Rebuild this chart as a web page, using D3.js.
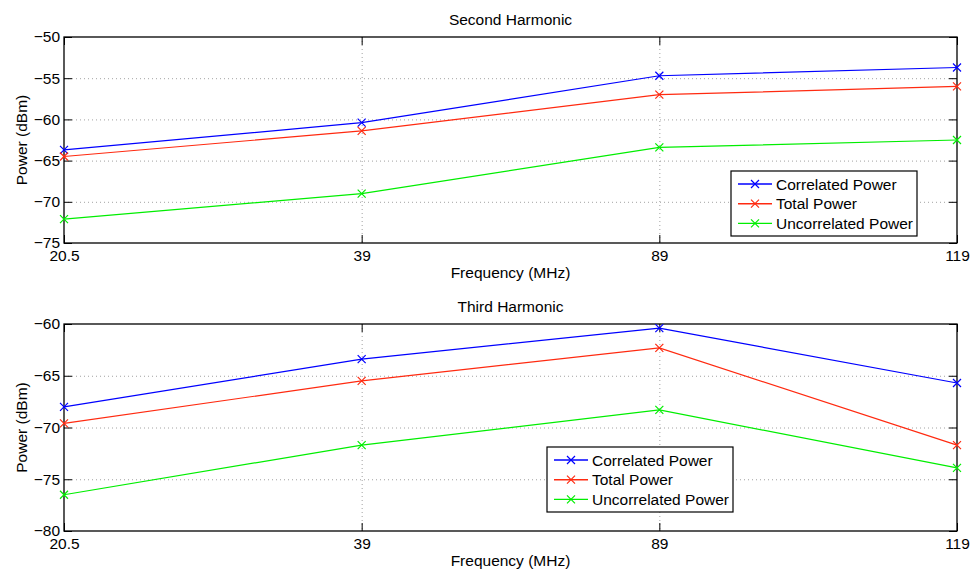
<!DOCTYPE html>
<html>
<head>
<meta charset="utf-8">
<script src="https://cdn.jsdelivr.net/npm/d3@7"></script>
<style>
  html, body { margin: 0; padding: 0; background: #fff; }
  svg { display: block; font-family: "Liberation Sans", Arial, Helvetica, sans-serif; }
</style>
</head>
<body>
<svg id="chart" width="976" height="571"></svg>
<script>
// Frequencies (categorical, evenly spaced)
const frequencies = ["20.5", "39", "89", "119"];
const seriesNames = ["Correlated Power", "Total Power", "Uncorrelated Power"];
const seriesColors = ["#0000ff", "#ff2a10", "#00ee00"];

// Second harmonic power (dBm)
const secondCorrelated   = [-63.7, -60.4, -54.7, -53.7];
const secondTotal        = [-64.5, -61.4, -57.0, -56.0];
const secondUncorrelated = [-72.1, -69.0, -63.4, -62.5];

// Third harmonic power (dBm)
const thirdCorrelated   = [-68.0, -63.4, -60.4, -65.7];
const thirdTotal        = [-69.6, -65.5, -62.3, -71.7];
const thirdUncorrelated = [-76.5, -71.7, -68.3, -73.9];

const secondTicks = [-75, -70, -65, -60, -55, -50];
const thirdTicks  = [-80, -75, -70, -65, -60];

const FONT = 15.5;
const svg = d3.select("#chart");

function panel(opts) {
  const { top, bottom, left, right, yDomain, yTicks, series, title, legendPos } = opts;
  const g = svg.append("g");
  const x = d3.scalePoint().domain(frequencies).range([left, right]).padding(0);
  const y = d3.scaleLinear().domain(yDomain).range([bottom, top]);

  // dotted grid
  const grid = g.append("g").attr("stroke", "#8a8a8a").attr("stroke-width", 0.8)
    .attr("stroke-dasharray", "1,3");
  grid.selectAll("line.h").data(yTicks.filter(t => t !== yDomain[0] && t !== yDomain[1]))
    .join("line").attr("class", "h")
    .attr("x1", left).attr("x2", right)
    .attr("y1", d => y(d) + 0.5).attr("y2", d => y(d) + 0.5);
  grid.selectAll("line.v").data(frequencies.slice(1, -1))
    .join("line").attr("class", "v")
    .attr("y1", top).attr("y2", bottom)
    .attr("x1", d => x(d) + 0.5).attr("x2", d => x(d) + 0.5);

  // axes with inward ticks on all four sides
  const fmt = d => String(d).replace("-", "\u2212");
  const axes = [
    g.append("g").attr("transform", `translate(${left},0)`)
      .call(d3.axisLeft(y).tickValues(yTicks).tickSize(-8).tickPadding(4).tickFormat(fmt)),
    g.append("g").attr("transform", `translate(${right},0)`)
      .call(d3.axisRight(y).tickValues(yTicks).tickSize(-8).tickFormat("")),
    g.append("g").attr("transform", `translate(0,${bottom})`)
      .call(d3.axisBottom(x).tickSize(-8).tickPadding(7)),
    g.append("g").attr("transform", `translate(0,${top})`)
      .call(d3.axisTop(x).tickSize(-8).tickFormat(""))
  ];
  axes.forEach(a => {
    a.select(".domain").remove();
    a.selectAll("line").attr("stroke", "#000").attr("stroke-width", 1);
    a.selectAll("text").attr("font-size", FONT).attr("fill", "#000")
      .attr("font-family", "'Liberation Sans', Arial, sans-serif");
  });

  // axes box
  g.append("rect").attr("x", left).attr("y", top)
    .attr("width", right - left).attr("height", bottom - top)
    .attr("fill", "none").attr("stroke", "#000").attr("stroke-width", 1.3);

  // series lines with x markers
  const line = d3.line().x((d, i) => x(frequencies[i])).y(d => y(d));
  series.forEach((vals, si) => {
    const c = seriesColors[si];
    g.append("path").datum(vals).attr("d", line)
      .attr("fill", "none").attr("stroke", c).attr("stroke-width", 1.2);
    g.selectAll(null).data(vals).join("path")
      .attr("transform", (d, i) => `translate(${x(frequencies[i])},${y(d)})`)
      .attr("d", "M-4,-4L4,4M-4,4L4,-4")
      .attr("stroke", c).attr("stroke-width", 1.2).attr("fill", "none");
  });

  // titles and labels
  g.append("text").attr("x", (left + right) / 2).attr("y", top - 12)
    .attr("text-anchor", "middle").attr("font-size", FONT).text(title);
  g.append("text").attr("x", (left + right) / 2).attr("y", bottom + 35)
    .attr("text-anchor", "middle").attr("font-size", FONT).text("Frequency (MHz)");
  g.append("text")
    .attr("transform", `translate(27,${(top + bottom) / 2}) rotate(-90)`)
    .attr("text-anchor", "middle").attr("font-size", FONT).text("Power (dBm)");

  // legend
  const [lx, ly, lw, lh] = legendPos;
  const lg = g.append("g").attr("transform", `translate(${lx},${ly})`);
  lg.append("rect").attr("width", lw).attr("height", lh)
    .attr("fill", "#fff").attr("stroke", "#000").attr("stroke-width", 1.2);
  seriesNames.forEach((name, i) => {
    const cy = 13 + i * 19.7;
    const c = seriesColors[i];
    lg.append("line").attr("x1", 7).attr("x2", 41).attr("y1", cy).attr("y2", cy)
      .attr("stroke", c).attr("stroke-width", 1.4);
    lg.append("path").attr("transform", `translate(24,${cy})`)
      .attr("d", "M-4,-4L4,4M-4,4L4,-4").attr("stroke", c).attr("stroke-width", 1.2);
    lg.append("text").attr("x", 45).attr("y", cy + 5.5).attr("font-size", FONT).text(name);
  });
}

panel({
  top: 37, bottom: 243, left: 64, right: 957,
  yDomain: [-75, -50], yTicks: secondTicks,
  series: [secondCorrelated, secondTotal, secondUncorrelated],
  title: "Second Harmonic",
  legendPos: [731, 171, 186, 65]
});

panel({
  top: 324, bottom: 531, left: 64, right: 957,
  yDomain: [-80, -60], yTicks: thirdTicks,
  series: [thirdCorrelated, thirdTotal, thirdUncorrelated],
  title: "Third Harmonic",
  legendPos: [547, 447, 186, 65]
});
</script>
</body>
</html>
